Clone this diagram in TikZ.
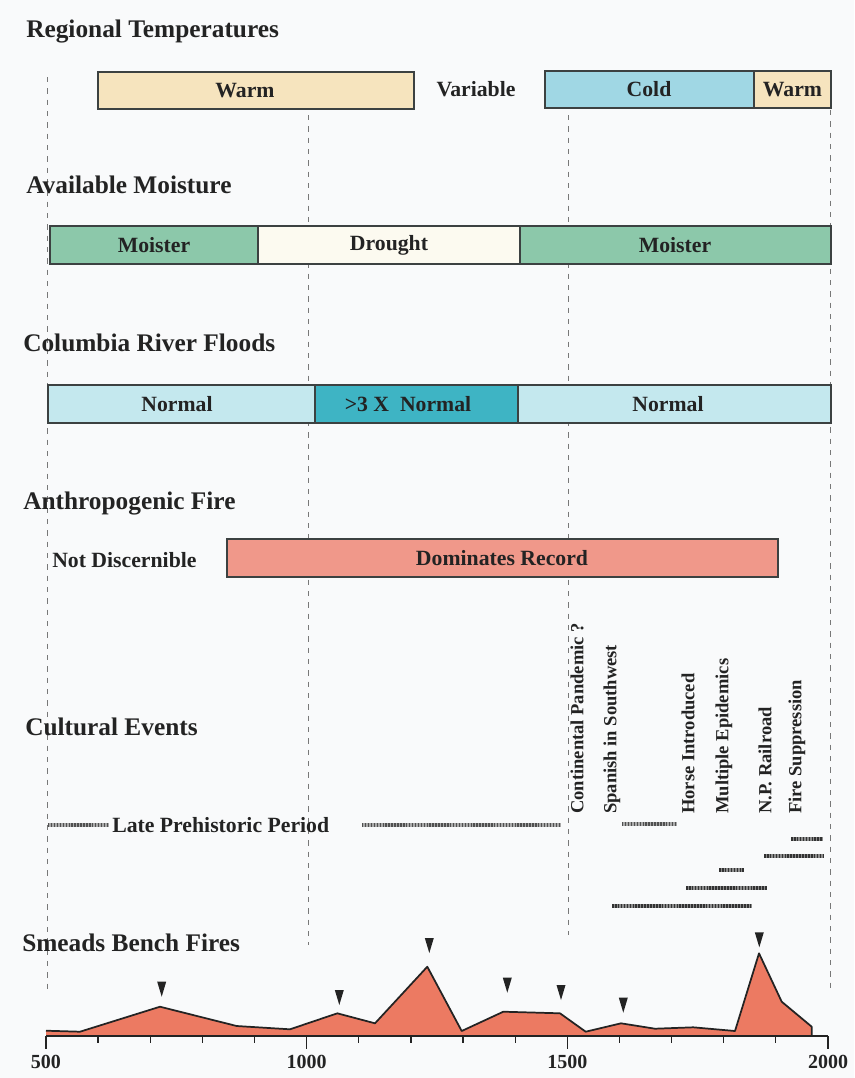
\documentclass[tikz,border=0pt]{standalone}
\usepackage{fontspec}
\setmainfont{Liberation Serif}
\definecolor{ink}{RGB}{35,35,35}
\definecolor{bgc}{RGB}{249,250,251}
\definecolor{boxline}{RGB}{60,65,65}
\definecolor{guidec}{RGB}{120,120,120}
\definecolor{hatchc}{RGB}{50,50,50}
\definecolor{hatchbase}{RGB}{140,140,140}
\definecolor{hatchl}{RGB}{80,80,80}
\definecolor{hatchlbase}{RGB}{170,170,170}
\definecolor{warmc}{RGB}{246,228,190}
\definecolor{coldc}{RGB}{160,215,228}
\definecolor{moistc}{RGB}{140,200,170}
\definecolor{droughtc}{RGB}{252,250,240}
\definecolor{normalc}{RGB}{196,232,238}
\definecolor{highc}{RGB}{62,180,196}
\definecolor{domc}{RGB}{240,152,138}
\definecolor{firec}{RGB}{236,122,98}
\begin{document}
\begin{tikzpicture}[x=0.75pt,y=-0.75pt,
  title/.style={font=\fontsize{19}{22}\selectfont\bfseries, text=ink, inner sep=0pt, anchor=west},
  lbl/.style={font=\fontsize{16.3}{19}\selectfont\bfseries, text=ink, inner sep=0pt},
  rot/.style={font=\fontsize{13.9}{16}\selectfont\bfseries, text=ink, inner sep=0pt, rotate=90, anchor=west},
  axlbl/.style={font=\fontsize{15}{18}\selectfont\bfseries, text=ink, inner sep=0pt},
  box/.style={draw=boxline, line width=1.1pt},
  guide/.style={draw=guidec, line width=0.6pt, dash pattern=on 4pt off 4.5pt},
  hatch/.style={preaction={draw=hatchbase, line width=3.3pt}, draw=hatchc, line width=3.3pt, dash pattern=on 1.2pt off 1pt},
  hatchlight/.style={preaction={draw=hatchlbase, line width=2.6pt}, draw=hatchl, line width=2.6pt, dash pattern=on 1.1pt off 1.1pt},
  marker/.style={fill=ink},
]
\fill[bgc] (0,0) rectangle (854,1078);
\useasboundingbox (0,0) rectangle (854,1078);

% guide lines
\draw[guide] (47,77) -- (47,993);
\draw[guide] (308,115) -- (308,945);
\draw[guide] (568,115) -- (568,935);
\draw[guide] (830,110) -- (830,990);

% Regional Temperatures
\node[title] (t1) at (26,32) {Regional Temperatures};
\draw[box, fill=warmc] (98,72) rectangle (414,109);
\node[lbl] (warmA) at (245,90.5) {Warm};
\node[lbl] (variable) at (476,89) {Variable};
\draw[box, fill=coldc] (545,71) rectangle (754,108);
\draw[box, fill=warmc] (754,71) rectangle (831,108);
\node[lbl] (cold) at (649,89.5) {Cold};
\node[lbl] (warmB) at (792.5,89.5) {Warm};

% Available Moisture
\node[title] (t2) at (26,185) {Available Moisture};
\draw[box, fill=moistc] (50,226) rectangle (258,264);
\draw[box, fill=droughtc] (258,226) rectangle (520,264);
\draw[box, fill=moistc] (520,226) rectangle (831,264);
\node[lbl] (moistA) at (154,245) {Moister};
\node[lbl] (drought) at (389,245) {Drought};
\node[lbl] (moistB) at (675,245) {Moister};

% Columbia River Floods
\node[title] (t3) at (23,343) {Columbia River Floods};
\draw[box, fill=normalc] (48,385) rectangle (315,423);
\draw[box, fill=highc] (315,385) rectangle (518,423);
\draw[box, fill=normalc] (518,385) rectangle (831,423);
\node[lbl] (normA) at (177,404) {Normal};
\node[lbl] (high) at (408,404) {>3 X\ \ Normal};
\node[lbl] (normB) at (668,404) {Normal};

% Anthropogenic Fire
\node[title] (t4) at (23,503) {Anthropogenic Fire};
\node[lbl, anchor=west] (notd) at (52,560) {Not Discernible};
\draw[box, fill=domc] (227,539) rectangle (778,577);
\node[lbl] (dom) at (502,558) {Dominates Record};

% Cultural Events
\node[title] (t5) at (25,727) {Cultural Events};
\draw[hatchlight] (48,825) -- (109,825);
\node[lbl, anchor=west] (late) at (112,825) {Late Prehistoric Period};
\draw[hatchlight] (362,825) -- (561,825);
\node[rot] (cp) at (577,814) {Continental Pandemic ?};
\node[rot] (sp) at (612,814) {Spanish in Southwest};
\node[rot] (hi) at (688,814) {Horse Introduced};
\node[rot] (me) at (724,814) {Multiple Epidemics};
\node[rot] (np) at (765,814) {N.P. Railroad};
\node[rot] (fs) at (797,814) {Fire Suppression};
\draw[hatchlight] (622,824) -- (677,824);
\draw[hatch] (791,839) -- (823,839);
\draw[hatch] (764,856) -- (823,856);
\draw[hatch] (719,870) -- (744,870);
\draw[hatch] (686,888) -- (767,888);
\draw[hatch] (612,906) -- (752,906);

% Smeads Bench Fires
\node[title] (t6) at (22,943) {Smeads Bench Fires};
\fill[firec] (46,1036) -- (46,1030.7) -- (80,1031.7) -- (160,1006.7) -- (236.7,1026)
  -- (290,1029.3) -- (337.3,1013.3) -- (375,1023.3) -- (427.3,966.7) -- (461.7,1031)
  -- (503.3,1011.7) -- (560,1013.3) -- (585.7,1031.7) -- (621,1023.3) -- (655,1028.7)
  -- (693.3,1027.3) -- (735,1031) -- (759,953.3) -- (781.7,1001.7) -- (811.7,1026.7)
  -- (811.7,1036) -- cycle;
\draw[ink, line width=1.3pt, line join=round] (46,1030.7) -- (80,1031.7) -- (160,1006.7) -- (236.7,1026)
  -- (290,1029.3) -- (337.3,1013.3) -- (375,1023.3) -- (427.3,966.7) -- (461.7,1031)
  -- (503.3,1011.7) -- (560,1013.3) -- (585.7,1031.7) -- (621,1023.3) -- (655,1028.7)
  -- (693.3,1027.3) -- (735,1031) -- (759,953.3) -- (781.7,1001.7) -- (811.7,1026.7)
  -- (811.7,1036);
\foreach \mx/\my in {161.7/996.7, 339.3/1005, 429.3/953, 507.3/992.7, 561/1000, 623.3/1012.7, 759.3/947.3}
  \fill[marker] ({\mx-4.5},{\my-15}) -- ({\mx+4.5},{\my-15}) -- (\mx,\my) -- cycle;

% axis
\draw[ink, line width=1.5pt] (46,1036) -- (828,1036);
\foreach \i in {0,...,15}
  \draw[ink, line width=1pt] ({46+\i*52.13},1036) -- ({46+\i*52.13},1043);
\foreach \i in {0,5,10,15}
  \draw[ink, line width=1.1pt] ({46+\i*52.13},1036) -- ({46+\i*52.13},1049);
\node[axlbl] (a500) at (46,1062) {500};
\node[axlbl] (a1000) at (306.7,1062) {1000};
\node[axlbl] (a1500) at (567.3,1062) {1500};
\node[axlbl] (a2000) at (828,1062) {2000};
\end{tikzpicture}
\end{document}
